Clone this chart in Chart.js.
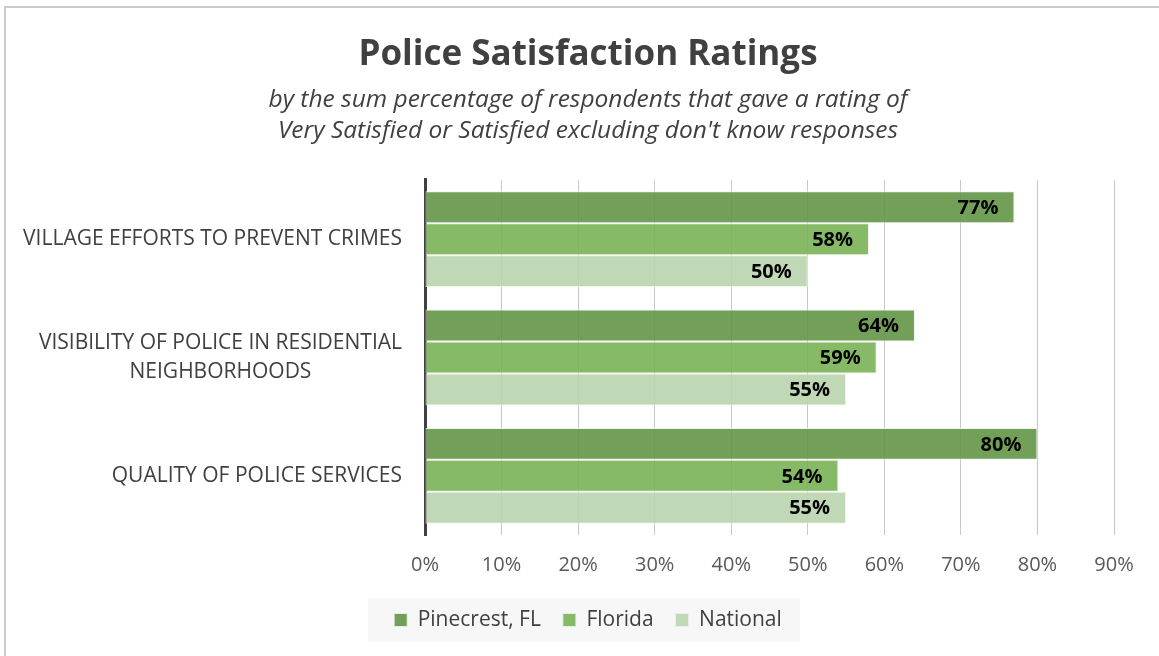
<!DOCTYPE html>
<html>
<head>
<meta charset="utf-8">
<title>Police Satisfaction Ratings</title>
<script src="https://cdn.jsdelivr.net/npm/chart.js@4.4.1/dist/chart.umd.min.js"></script>
<style>
  html, body { margin: 0; padding: 0; background: #ffffff; }
  #wrap { position: relative; width: 1159px; height: 656px; overflow: hidden; }
  #frame { position: absolute; left: 4px; top: 6px; width: 1200px; height: 700px;
           border-left: 2px solid #cacaca; border-top: 2px solid #cacaca; box-sizing: border-box; }
  canvas { position: absolute; left: 0; top: 0; }
</style>
</head>
<body>
<div id="wrap">
  <div id="frame"></div>
  <canvas id="chart" width="1159" height="656"></canvas>
</div>
<script>
// Survey items (multi-line items are arrays of lines)
const categories = [
  'VILLAGE EFFORTS TO PREVENT CRIMES',
  ['VISIBILITY OF POLICE IN RESIDENTIAL', 'NEIGHBORHOODS'],
  'QUALITY OF POLICE SERVICES'
];
const seriesNames = ['Pinecrest, FL', 'Florida', 'National'];
// Percent of respondents satisfied or very satisfied
const pinecrest = [77, 64, 80];
const florida = [58, 59, 54];
const national = [50, 55, 55];
const tickValues = [0, 10, 20, 30, 40, 50, 60, 70, 80, 90];

const FONT = "'Open Sans', 'DejaVu Sans', sans-serif";
const TEXT = '#404040';
const fills = ['rgba(100,150,70,0.9)', 'rgba(121,178,85,0.9)', 'rgba(185,212,173,0.9)'];
const edge = 'rgba(236,243,231,0.85)';

// Category labels: right-aligned block, lines centred within it
const categoryLabels = {
  id: 'categoryLabels',
  afterDraw(chart) {
    const ctx = chart.ctx, y = chart.scales.y;
    const right = chart.chartArea.left - 23;
    ctx.save();
    ctx.font = `21px ${FONT}`;
    ctx.fillStyle = TEXT;
    ctx.textAlign = 'center';
    ctx.textBaseline = 'middle';
    categories.forEach((lab, i) => {
      const lines = Array.isArray(lab) ? lab : [lab];
      const w = Math.max(...lines.map(l => ctx.measureText(l).width));
      const cx = right - w / 2;
      const cy = y.getPixelForTick(i);
      const lh = 29;
      lines.forEach((l, j) => {
        ctx.fillText(l, cx, cy + (j - (lines.length - 1) / 2) * lh);
      });
    });
    ctx.restore();
  }
};

// Value labels drawn inside the end of each bar
const valueLabels = {
  id: 'valueLabels',
  afterDatasetsDraw(chart) {
    const ctx = chart.ctx;
    ctx.save();
    ctx.font = `bold 20px ${FONT}`;
    ctx.fillStyle = '#000000';
    ctx.textAlign = 'right';
    ctx.textBaseline = 'middle';
    chart.data.datasets.forEach((ds, di) => {
      chart.getDatasetMeta(di).data.forEach((bar, i) => {
        ctx.fillText(ds.data[i] + '%', bar.x - 16, bar.y + 1);
      });
    });
    ctx.restore();
  }
};

// Light panel behind the legend
const legendPanel = {
  id: 'legendPanel',
  beforeDraw(chart) {
    const lg = chart.legend;
    if (!lg || !lg.legendHitBoxes || !lg.legendHitBoxes.length) return;
    const boxes = lg.legendHitBoxes;
    const last = boxes[boxes.length - 1];
    const left = boxes[0].left - 26;
    const right = last.left + last.width + 18;
    const cy = boxes[0].top + boxes[0].height / 2;
    const ctx = chart.ctx;
    ctx.save();
    ctx.fillStyle = '#f7f7f7';
    ctx.fillRect(left, cy - 22, right - left, 44);
    ctx.restore();
  }
};

new Chart(document.getElementById('chart'), {
  type: 'bar',
  data: {
    labels: categories,
    datasets: [pinecrest, florida, national].map((d, i) => ({
      label: seriesNames[i],
      data: d,
      backgroundColor: fills[i],
      borderColor: edge,
      borderWidth: 1,
      borderSkipped: false,
      barPercentage: 1,
      categoryPercentage: 0.81
    }))
  },
  options: {
    indexAxis: 'y',
    responsive: false,
    animation: false,
    devicePixelRatio: 1,
    layout: { padding: { left: 62, right: 45, top: 0, bottom: 15.5 } },
    scales: {
      x: {
        min: 0, max: 90,
        afterBuildTicks(scale) { scale.ticks = tickValues.map(v => ({ value: v })); },
        afterFit(scale) { scale.height = 52.5; },
        grid: { color: '#c8c8c8', lineWidth: 1, drawTicks: false },
        border: { display: false },
        ticks: {
          padding: 18,
          color: '#595959',
          font: { family: FONT, size: 20 },
          callback: v => v + '%'
        }
      },
      y: {
        grid: { display: false },
        border: { display: true, color: '#404040', width: 3 },
        ticks: { display: false },
        afterFit(scale) { scale.width = 363; }
      }
    },
    plugins: {
      title: {
        display: true,
        text: 'Police Satisfaction Ratings',
        color: TEXT,
        font: { family: FONT, size: 35, weight: 'bold', lineHeight: 1.2 },
        padding: { top: 34, bottom: 8.5 }
      },
      subtitle: {
        display: true,
        text: ['by the sum percentage of respondents that gave a rating of',
               "Very Satisfied or Satisfied excluding don't know responses"],
        color: TEXT,
        font: { family: FONT, size: 24.5, style: 'italic', lineHeight: 1.265 },
        padding: { top: 0, bottom: 33.5 }
      },
      legend: {
        position: 'bottom',
        labels: {
          color: TEXT,
          boxWidth: 13,
          boxHeight: 13,
          padding: 22,
          font: { family: FONT, size: 21 },
          generateLabels(chart) {
            return chart.data.datasets.map((ds, i) => ({
              text: ds.label,
              fillStyle: ds.backgroundColor,
              strokeStyle: edge,
              lineWidth: 1,
              fontColor: TEXT,
              datasetIndex: i,
              hidden: false
            }));
          }
        }
      },
      tooltip: { enabled: false }
    }
  },
  plugins: [legendPanel, categoryLabels, valueLabels]
});
</script>
</body>
</html>
